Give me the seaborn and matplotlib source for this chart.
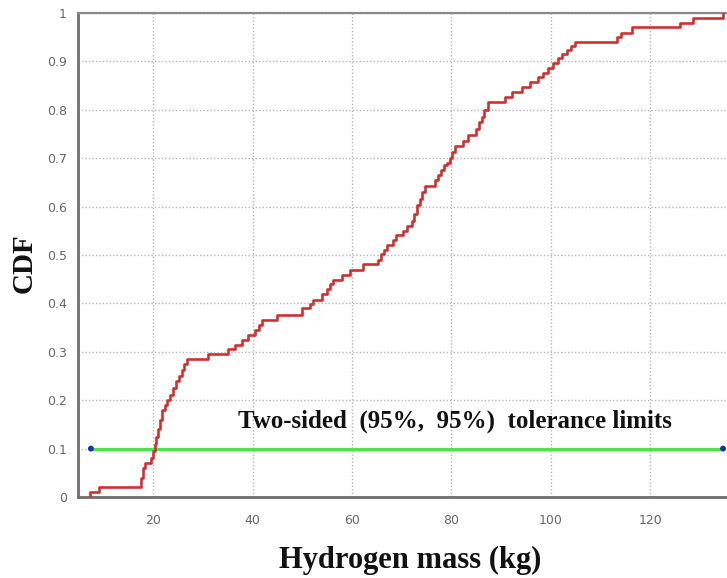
import matplotlib
matplotlib.use("Agg")
import matplotlib.pyplot as plt
import seaborn as sns
import pandas as pd

# ---- data ----
hydrogen_mass_kg = [7.3, 7.4, 9.1, 17.6, 18.0, 18.4, 19.5, 19.9, 20.3, 20.6, 21.0, 21.4, 21.8,
                    22.3, 22.8, 23.4, 24.0, 24.6, 25.2, 25.8, 26.3, 26.8, 31.1, 35.0, 36.5,
                    37.8, 39.0, 40.5, 41.2, 41.9, 44.9, 50.0, 51.5, 52.2, 54.0, 55.0, 55.6,
                    56.2, 58.0, 59.6, 62.2, 65.2, 65.8, 66.4, 67.0, 68.2, 68.8, 70.3, 71.0,
                    72.0, 72.5, 73.0, 73.6, 74.1, 74.7, 76.7, 77.3, 77.9, 78.5, 79.1, 79.7,
                    80.2, 80.7, 82.3, 83.4, 85.0, 85.6, 86.1, 86.6, 87.3, 90.7, 92.2, 94.2,
                    95.8, 97.4, 98.4, 99.4, 100.4, 101.4, 102.3, 103.2, 104.0, 104.8, 113.3,
                    114.0, 116.3, 125.9, 128.5, 134.6]
cdf_values = [0.0, 0.01, 0.02, 0.04, 0.06, 0.07, 0.08, 0.095, 0.11, 0.125, 0.14, 0.16, 0.18,
              0.19, 0.20, 0.21, 0.225, 0.24, 0.25, 0.262, 0.275, 0.285, 0.295, 0.305, 0.315,
              0.325, 0.335, 0.345, 0.355, 0.366, 0.376, 0.39, 0.399, 0.408, 0.42, 0.43, 0.44,
              0.448, 0.459, 0.469, 0.481, 0.49, 0.502, 0.511, 0.521, 0.531, 0.541, 0.55, 0.56,
              0.57, 0.585, 0.603, 0.615, 0.63, 0.643, 0.655, 0.665, 0.675, 0.686, 0.69, 0.70,
              0.712, 0.725, 0.735, 0.748, 0.76, 0.775, 0.785, 0.80, 0.816, 0.826, 0.837, 0.847,
              0.857, 0.868, 0.877, 0.886, 0.897, 0.907, 0.915, 0.924, 0.932, 0.94, 0.95,
              0.959, 0.971, 0.98, 0.99, 1.0]

tolerance_limits_kg = [7.5, 134.6]
tolerance_level = [0.1, 0.1]
annotation_text = "Two-sided  (95%,  95%)  tolerance limits"

x_ticks = [20, 40, 60, 80, 100, 120]
y_ticks = [0, 0.1, 0.2, 0.3, 0.4, 0.5, 0.6, 0.7, 0.8, 0.9, 1]
y_tick_labels = ["0", "0.1", "0.2", "0.3", "0.4", "0.5", "0.6", "0.7", "0.8", "0.9", "1"]

# ---- figure ----
sns.set_style("white")
plt.rcParams["font.family"] = ["DejaVu Sans"]

fig = plt.figure(figsize=(7.27, 5.78), dpi=100)
ax = fig.add_axes([78 / 727, 1 - 497 / 578, 1 - 78 / 727, (497 - 13) / 578])

cdf_df = pd.DataFrame({"mass": hydrogen_mass_kg, "cdf": cdf_values})
tol_df = pd.DataFrame({"mass": tolerance_limits_kg, "cdf": tolerance_level})

sns.lineplot(data=tol_df, x="mass", y="cdf", ax=ax, color="#4fe24f", linewidth=2.3,
             estimator=None, sort=False, zorder=3)
sns.scatterplot(data=tol_df, x="mass", y="cdf", ax=ax, color="#1a2fb0", s=18,
                edgecolor="none", zorder=4, clip_on=False)
sns.lineplot(data=cdf_df, x="mass", y="cdf", ax=ax, color="#d03030", linewidth=1.9,
             estimator=None, sort=False, drawstyle="steps-post", zorder=5)

ax.set_xlim(4.9, 135.4)
ax.set_ylim(0, 1)
ax.set_xticks(x_ticks)
ax.set_xticklabels([str(t) for t in x_ticks])
ax.set_yticks(y_ticks)
ax.set_yticklabels(y_tick_labels)
ax.tick_params(axis="both", labelsize=9, labelcolor="#666666", colors="#aaaaaa",
               length=4, width=1, direction="out")
ax.tick_params(axis="x", pad=8)
ax.tick_params(axis="y", pad=4)

ax.grid(True, linestyle=(0, (1, 1.5)), color="#b5b5b5", linewidth=1.0)
ax.set_axisbelow(True)

for side in ["left", "bottom"]:
    ax.spines[side].set_color("#6e6e6e")
    ax.spines[side].set_linewidth(2.0)
ax.spines["top"].set_color("#8a8a8a")
ax.spines["top"].set_linewidth(1.6)
ax.spines["right"].set_visible(False)

ax.set_xlabel("")
ax.set_ylabel("")

serif = ["Liberation Serif", "DejaVu Serif"]
fig.text(410 / 727, 1 - 560 / 578, "Hydrogen mass (kg)", ha="center", va="center",
         fontsize=22, fontweight="bold", family=serif, color="#111111")
fig.text(24 / 727, 1 - 263 / 578, "CDF", ha="center", va="center", rotation=90,
         fontsize=21, fontweight="bold", family=serif, color="#111111")
fig.text(238 / 727, 1 - 421 / 578, annotation_text, ha="left", va="center",
         fontsize=18, fontweight="bold", family=serif, color="#111111")

fig.savefig("out.png", dpi=100)
